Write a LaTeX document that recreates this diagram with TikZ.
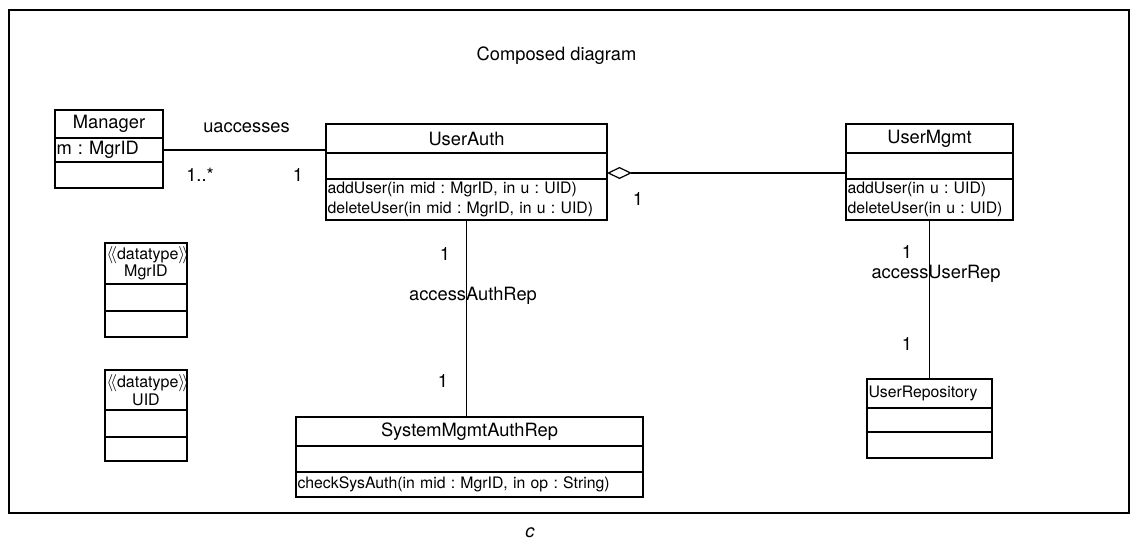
\documentclass[tikz,border=0pt]{standalone}
\usepackage{fontspec}
\setmainfont{TeX Gyre Heros}
\usetikzlibrary{positioning,arrows.meta}
\frenchspacing

\newcommand\bigfont{\fontsize{18.3}{21}\selectfont}
\newcommand\opfont{\fontsize{15.8}{19.5}\selectfont}
\newcommand\dtfont{\fontsize{16}{17.5}\selectfont}

\tikzset{
  part/.style 2 args={draw, line width=1.5pt, inner xsep=1.5pt, inner ysep=0pt,
    outer sep=0pt, text width=#1, minimum height=#2},
  head/.style={anchor=north west, align=center, font=\bigfont},
  conn/.style={draw, line width=1.2pt},
  lbl/.style={anchor=base, font=\bigfont},
}

\begin{document}
\begin{tikzpicture}[x=1pt, y=-1pt]
    \useasboundingbox (0,0) rectangle (1139,543);
    \draw [line width=1.2pt] (9,10) rectangle (1129,513);

    \node (title) [lbl] at (556.5,60) {Composed diagram};
    \node (cap) [anchor=base, font=\bigfont\itshape] at (530,537) {c};

    % classes
    \node (mgr) [part={105pt}{28pt}, head] at (55,110) {Manager};
    \node (mgrattr) [part={105pt}{24pt}, below=0pt of mgr, align=left, font=\bigfont] {m : MgrID};
    \node (mgrops) [part={105pt}{26pt}, below=0pt of mgrattr] {};

    \node (auth) [part={278pt}{29pt}, head] at (326,124) {UserAuth};
    \node (authattr) [part={278pt}{26pt}, below=0pt of auth] {};
    \node (authops) [part={278pt}{41pt}, below=0pt of authattr, align=left, font=\opfont]
        {addUser(in mid : MgrID, in u : UID)\\deleteUser(in mid : MgrID, in u : UID)};

    \node (mgmt) [part={164pt}{29pt}, head] at (846,124) {UserMgmt};
    \node (mgmtattr) [part={164pt}{26pt}, below=0pt of mgmt] {};
    \node (mgmtops) [part={164pt}{41pt}, below=0pt of mgmtattr, align=left, font=\opfont]
        {addUser(in u : UID)\\deleteUser(in u : UID)};

    \node (mgrid) [part={79pt}{41pt}, anchor=north west, align=center, font=\dtfont] at (105,243)
        {$\langle\!\langle$datatype$\rangle\!\rangle$\\MgrID};
    \node (mgridattr) [part={79pt}{27pt}, below=0pt of mgrid] {};
    \node (mgridops) [part={79pt}{26pt}, below=0pt of mgridattr] {};

    \node (uid) [part={79pt}{40pt}, anchor=north west, align=center, font=\dtfont] at (105,370)
        {$\langle\!\langle$datatype$\rangle\!\rangle$\\UID};
    \node (uidattr) [part={79pt}{27pt}, below=0pt of uid] {};
    \node (uidops) [part={79pt}{24pt}, below=0pt of uidattr] {};

    \node (sys) [part={344pt}{29pt}, head] at (296,417) {SystemMgmtAuthRep};
    \node (sysattr) [part={344pt}{26pt}, below=0pt of sys] {};
    \node (sysops) [part={344pt}{25pt}, below=0pt of sysattr, align=left, font=\opfont]
        {checkSysAuth(in mid : MgrID, in op : String)};

    \node (repo) [part={122pt}{29pt}, anchor=north west, align=left, font=\opfont] at (867,379) {UserRepository};
    \node (repoattr) [part={122pt}{24pt}, below=0pt of repo] {};
    \node (repoops) [part={122pt}{26pt}, below=0pt of repoattr] {};

    % associations
    \draw [conn] (mgrattr.east) -- (mgrattr.east -| auth.west);
    \coordinate (agg) at ([yshift=-7pt]authattr.east);
    \draw [conn, {Diamond[open, length=25pt, width=12pt]}-] (agg) -- (agg -| mgmtattr.west);
    \draw [conn] (authops.south) -- (authops.south |- sys.north);
    \draw [conn] (mgmtops.south) -- (repo.north);

    \node (ua) [lbl] at (246.5,132) {uaccesses};
    \node (uamgr) [lbl] at (200,181) {1..*};
    \node (uaauth) [lbl] at (298,181) {1};
    \node (aggmul) [lbl] at (638,205) {1};
    \node (arauth) [lbl] at (445,260) {1};
    \node (ar) [lbl] at (473,300) {accessAuthRep};
    \node (arsys) [lbl] at (443,387) {1};
    \node (urmgmt) [lbl] at (907,258) {1};
    \node (ur) [lbl] at (936,278) {accessUserRep};
    \node (urrepo) [lbl] at (907,350) {1};

\end{tikzpicture}
\end{document}
